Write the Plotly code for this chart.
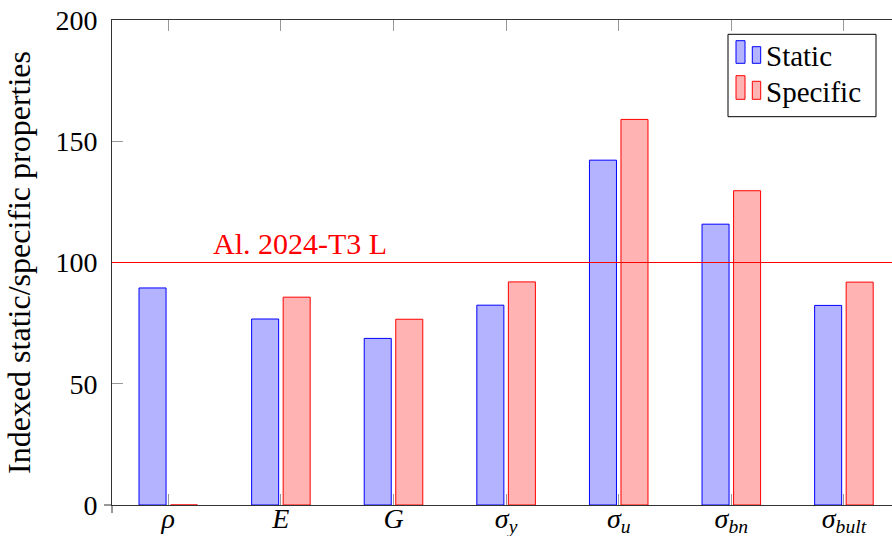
import plotly.graph_objects as go

# Material properties, indexed to aluminium 2024-T3 L (= 100)
categories = [0, 1, 2, 3, 4, 5, 6]
tick_labels = [
    "<i>ρ</i>",
    "<i>E</i>",
    "<i>G</i>",
    "<i>σ</i><sub><i>y</i></sub>",
    "<i>σ</i><sub><i>u</i></sub>",
    "<i>σ</i><sub><i>bn</i></sub>",
    "<i>σ</i><sub><i>bult</i></sub>",
]
static_vals = [89.5, 76.7, 68.7, 82.4, 142.2, 115.8, 82.3]
specific_vals = [0, 85.7, 76.6, 92.0, 159.0, 129.6, 91.9]
reference_level = 100
reference_label = "Al. 2024-T3 L"
y_ticks = [0, 50, 100, 150, 200]

FONT = "Liberation Serif"
BLUE_FILL, BLUE_EDGE = "#b3b3ff", "#0000ff"
RED_FILL, RED_EDGE = "#ffb3b3", "#ff0000"
FRAME = "#333333"
TICK = "#999999"

# plot-area geometry in pixels (used for legend / decorations placed in paper space)
L, R, T, B = 112, 892, 20, 505
def px(x):
    return (x - L) / (R - L)
def py(y):
    return (B - y) / (B - T)

fig = go.Figure()
fig.add_trace(go.Bar(
    x=categories, y=static_vals, name="Static",
    width=0.24, offset=-0.26,
    marker=dict(color=BLUE_FILL, line=dict(color=BLUE_EDGE, width=1)),
))
fig.add_trace(go.Bar(
    x=categories, y=specific_vals, name="Specific",
    width=0.24, offset=0.02,
    marker=dict(color=RED_FILL, line=dict(color=RED_EDGE, width=1)),
))

shapes = [
    # reference level
    dict(type="line", xref="paper", yref="y", x0=0, x1=1,
         y0=reference_level, y1=reference_level,
         line=dict(color="#ff0000", width=1.2), layer="above"),
    # small axis overshoot at the origin
    dict(type="line", xref="paper", yref="paper", x0=px(104), x1=0, y0=0, y1=0,
         line=dict(color=FRAME, width=1)),
    dict(type="line", xref="paper", yref="paper", x0=0, x1=0, y0=0, y1=py(513),
         line=dict(color=FRAME, width=1)),
    # legend frame
    dict(type="rect", xref="paper", yref="paper",
         x0=px(728), x1=px(876), y0=py(116.7), y1=py(34.3),
         line=dict(color="black", width=1), fillcolor="white", layer="above"),
]

# legend icons: two small bars per entry
legend_rows = [
    ("Static", BLUE_FILL, BLUE_EDGE, 40.7, 46.7, 63.3, 56.5),
    ("Specific", RED_FILL, RED_EDGE, 75.7, 81.3, 99.3, 92.0),
]
annotations = []
for name, fill, edge, top1, top2, bottom, ymid in legend_rows:
    for (x0, x1, top) in [(736, 745, top1), (752.3, 760.7, top2)]:
        shapes.append(dict(type="rect", xref="paper", yref="paper",
                           x0=px(x0), x1=px(x1), y0=py(bottom), y1=py(top),
                           line=dict(color=edge, width=1), fillcolor=fill,
                           layer="above"))
    annotations.append(dict(text=name, xref="paper", yref="paper",
                            x=px(764), y=py(ymid), xanchor="left",
                            yanchor="middle", showarrow=False,
                            font=dict(family=FONT, size=29, color="black")))

annotations.append(dict(text=reference_label, xref="paper", yref="y",
                        x=px(211), y=reference_level, xanchor="left",
                        yanchor="bottom", yshift=1, showarrow=False,
                        font=dict(family=FONT, size=30, color="#ff0000")))

fig.update_layout(
    width=892, height=536,
    margin=dict(l=L, r=892 - R, t=T, b=536 - B, autoexpand=False),
    plot_bgcolor="white", paper_bgcolor="white",
    barmode="overlay", showlegend=False,
    font=dict(family=FONT, size=28, color="black"),
    shapes=shapes, annotations=annotations,
    xaxis=dict(
        range=[-0.5, 6.427], tickmode="array", tickvals=categories,
        ticktext=tick_labels, ticks="inside", ticklen=11, tickcolor=TICK,
        tickwidth=1, showline=True, linecolor=FRAME, linewidth=1,
        mirror="ticks", showgrid=False, zeroline=False,
        ticklabelstandoff=-12, automargin=False,
        tickfont=dict(family=FONT, size=28),
    ),
    yaxis=dict(
        range=[0, 200], tickmode="array", tickvals=y_ticks,
        ticks="inside", ticklen=11, tickcolor=TICK, tickwidth=1,
        showline=True, linecolor=FRAME, linewidth=1, mirror=False,
        showgrid=False, zeroline=False, ticklabelstandoff=8,
        automargin=False, tickfont=dict(family=FONT, size=28),
        title=dict(text="Indexed static/specific properties",
                   font=dict(family=FONT, size=32)),
    ),
    yaxis2=dict(
        overlaying="y", side="right", range=[0, 200], tickmode="array",
        tickvals=y_ticks, ticks="inside", ticklen=4, tickcolor=TICK,
        showticklabels=False, showline=False, showgrid=False,
        zeroline=False,
    ),
)

fig.write_html("out.html")
